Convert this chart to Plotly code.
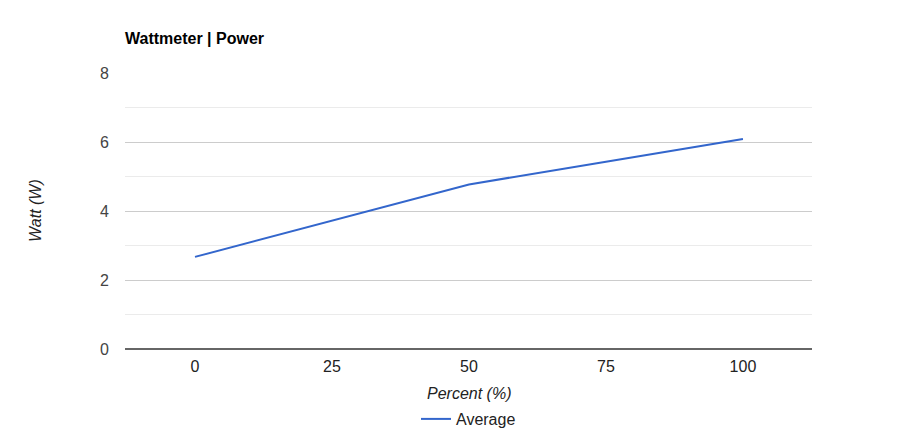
import plotly.graph_objects as go

percent = [0, 25, 50, 75, 100]
watt_avg = [2.67, 3.72, 4.77, 5.43, 6.09]
x_ticks = [0, 25, 50, 75, 100]
y_ticks = [0, 2, 4, 6, 8]

FONT = "Liberation Sans, Arial, sans-serif"
OFF = 8  # page body margin offset

L, R, T, B = 125 - OFF, 899 - (812 - OFF), 73 - OFF, 447 - (349 - OFF)
PH = 349 - 73
PW = 812 - 125

fig = go.Figure()
fig.add_trace(go.Scatter(
    x=percent, y=watt_avg, mode="lines", name="Average",
    line=dict(color="#3366cc", width=2),
))

fig.update_layout(
    width=899, height=447,
    margin=dict(l=L, r=R, t=T, b=B),
    paper_bgcolor="white", plot_bgcolor="white",
    font=dict(family=FONT, size=16, color="#444"),
    title=dict(text="<b>Wattmeter | Power</b>", x=(125 - OFF) / 899, xanchor="left",
               y=1 - (38 - OFF) / 447, yanchor="middle",
               font=dict(family=FONT, size=16, color="#000")),
    showlegend=True,
    legend=dict(orientation="h", x=0.5, xanchor="center", y=-(419 - 349) / PH, yanchor="middle",
                font=dict(family=FONT, size=16, color="#222")),
    xaxis=dict(range=[-12.77, 112.6], tickvals=x_ticks, showgrid=False, zeroline=False,
               showline=False, ticks="", ticklabelstandoff=6,
               tickfont=dict(color="#222", size=16)),
    yaxis=dict(range=[0, 8], tickvals=y_ticks, showgrid=True, gridcolor="#cccccc",
               gridwidth=1, zeroline=True, zerolinecolor="#666666", zerolinewidth=1.5,
               showline=False, ticks="", ticklabelstandoff=15,
               tickfont=dict(color="#444", size=16),
               minor=dict(dtick=1, showgrid=True, gridcolor="#ebebeb", gridwidth=1)),
    annotations=[
        dict(text="<i>Percent (%)</i>", xref="paper", yref="paper", x=0.5, y=-(393 - 349) / PH,
             xanchor="center", yanchor="middle", showarrow=False,
             font=dict(family=FONT, size=16, color="#222")),
        dict(text="<i>Watt (W)</i>", xref="paper", yref="paper", x=-(125 - 35) / PW, y=0.5,
             xanchor="center", yanchor="middle", showarrow=False, textangle=-90,
             font=dict(family=FONT, size=16, color="#222")),
    ],
)

fig.write_html("out.html")
